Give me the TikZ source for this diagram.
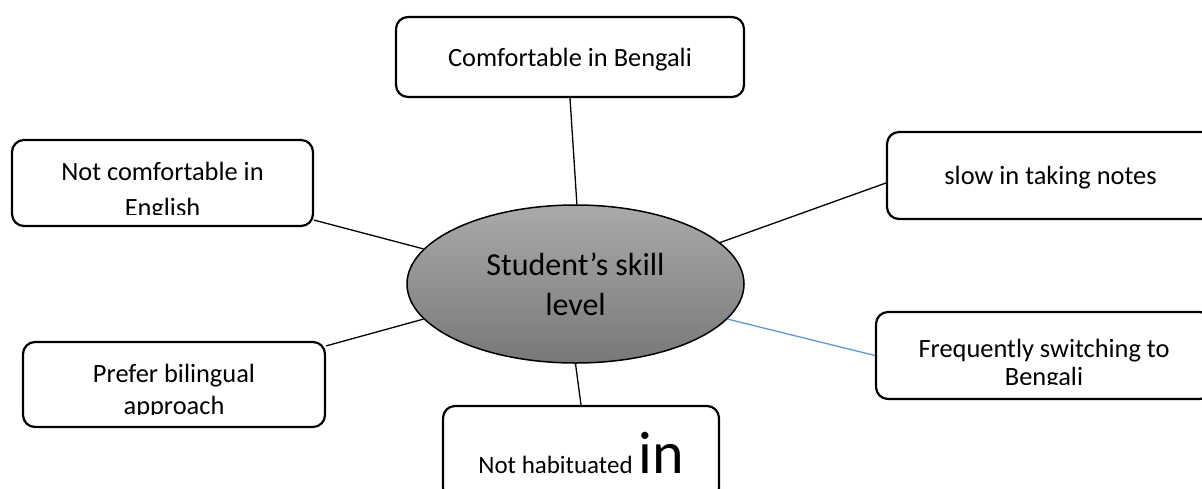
\documentclass[tikz,border=0pt]{standalone}
\usepackage{fontspec}
\setmainfont{Carlito}
\usepackage{xcolor}
\usetikzlibrary{shapes.geometric}

\definecolor{linkblue}{RGB}{91,155,213}
\definecolor{hubtop}{RGB}{170,170,170}
\definecolor{hubbot}{RGB}{120,120,120}

\begin{document}
\begin{tikzpicture}[
        x=0.5pt, y=-0.5pt,
        font=\fontsize{13.2}{16}\selectfont,
        box/.style={draw, rounded corners=6pt, line width=1.1pt, align=center, inner sep=0pt, text depth=0pt},
        boxtext/.style={align=center, inner sep=0pt},
        hub/.style={ellipse, draw, line width=0.75pt, top color=hubtop, bottom color=hubbot, align=center, inner sep=0pt, font=\fontsize{16}{20}\selectfont},
        link/.style={line width=0.65pt}
    ]
    \clip (0,0) rectangle (1202,488);

    % CENTRAL NODE
    \node[hub, minimum width=168.5pt, minimum height=79pt] (skill) at (575.5,284) {Student’s skill\\level};

    % BOXES
    \node[box, minimum width=174pt, minimum height=40pt] (comfort) at (570,57) {Comfortable in Bengali};
    \node[box, minimum width=150.5pt, minimum height=43pt] (english) at (162.5,183) {};
    \node[box, minimum width=163.5pt, minimum height=43.5pt] (notes) at (1050.5,175.5) {slow in taking notes};
    \node[box, minimum width=168pt, minimum height=43.5pt] (switch) at (1044,355.5) {};
    \node[box, minimum width=151pt, minimum height=42.5pt] (bilingual) at (174,384.5) {};
    \node[box, minimum width=138pt, minimum height=47pt, font=\fontsize{12.5}{14}\selectfont] (habit) at (581,453) {Not habituated {\fontsize{30}{32}\selectfont in}};

    % TEXT CUT OFF AT THE BOTTOM OF THE BOX
    \begin{scope}
        \clip ([yshift=6.5pt]english.south west) rectangle (english.north east);
        \node[boxtext, font=\fontsize{13.2}{18}\selectfont] (englishtext) at (162.5,192) {Not comfortable in\\English};
    \end{scope}
    \begin{scope}
        \clip ([yshift=7pt]bilingual.south west) rectangle (bilingual.north east);
        \node[boxtext] (bilingualtext) at (174,391) {Prefer bilingual\\approach};
    \end{scope}
    \begin{scope}
        \clip ([yshift=8pt]switch.south west) rectangle (switch.north east);
        \node[boxtext, font=\fontsize{13.2}{14}\selectfont] (switchtext) at (1044,365) {Frequently switching to\\Bengali};
    \end{scope}

    % LINKS
    \draw[link] (skill.89) -- (comfort.south);
    \draw[link] (skill.167) -- ([yshift=3.5pt]english.south east);
    \draw[link] (skill.16) -- ([yshift=-3.75pt]notes.west);
    \draw[link, linkblue] (skill.347) -- (switch.west);
    \draw[link] (skill.193) -- ([yshift=-2.5pt]bilingual.north east);
    \draw[link] (skill.south) -- (habit.north);

\end{tikzpicture}
\end{document}
